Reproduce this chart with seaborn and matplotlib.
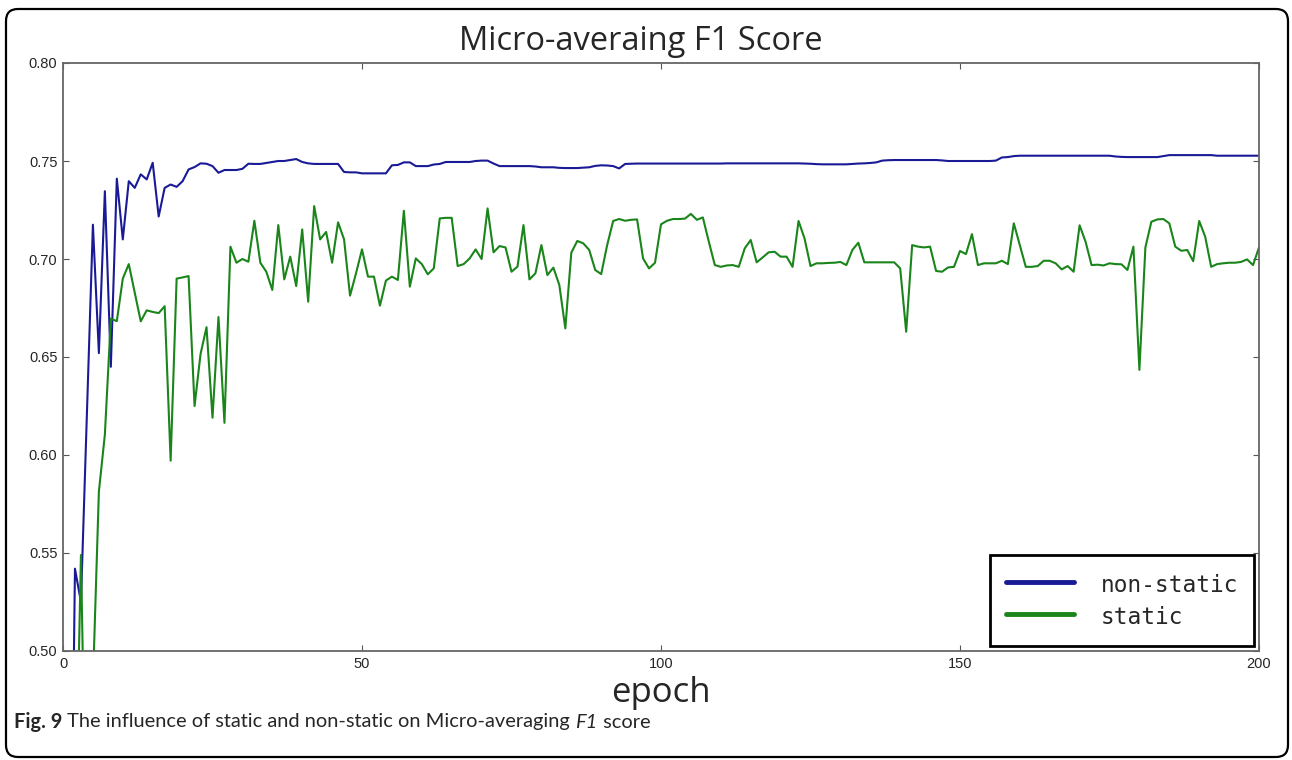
import numpy as np
import pandas as pd
import seaborn as sns
import matplotlib
matplotlib.use("Agg")
import matplotlib.pyplot as plt
from matplotlib.patches import FancyBboxPatch
from matplotlib.transforms import IdentityTransform
from matplotlib.lines import Line2D

# ---------------- data ----------------
epochs = list(range(1, 201))

non_static = [
    0.29, 0.542, 0.525, 0.621, 0.7175, 0.652, 0.7346, 0.645, 0.741, 0.710,
    0.7397, 0.7363, 0.7432, 0.7406, 0.7491, 0.7217, 0.7363, 0.738, 0.7368, 0.7397,
    0.7457, 0.7469, 0.7488, 0.7486, 0.7474, 0.744, 0.7454, 0.7454, 0.7454, 0.746,
    0.7486, 0.7485, 0.7485, 0.749, 0.7495, 0.750, 0.750, 0.7505, 0.751, 0.7495,
    0.7488, 0.7485, 0.7485, 0.7485, 0.7485, 0.7485, 0.7444, 0.7442, 0.7442, 0.7437,
    0.7437, 0.7437, 0.7437, 0.7437, 0.7478, 0.748, 0.7493, 0.7493, 0.7474, 0.7474,
    0.7474, 0.7482, 0.7485, 0.7495, 0.7495, 0.7495, 0.7495, 0.7495, 0.75, 0.7502,
    0.7502, 0.7487, 0.7474, 0.7474, 0.7474, 0.7474, 0.7474, 0.7474, 0.7472, 0.7468,
    0.7468, 0.7468, 0.7465, 0.7464, 0.7464, 0.7464, 0.7466, 0.7468, 0.7475, 0.7478,
    0.7477, 0.7474, 0.7462, 0.7485, 0.7486, 0.7487, 0.7487, 0.7487, 0.7487, 0.7487,
    0.7487, 0.7487, 0.7487, 0.7487, 0.7487, 0.7487, 0.7487, 0.7487, 0.7487, 0.7487,
    0.7488, 0.7488, 0.7488, 0.7488, 0.7488, 0.7488, 0.7488, 0.7488, 0.7488, 0.7488,
    0.7488, 0.7488, 0.7488, 0.7487, 0.7486, 0.7484, 0.7483, 0.7483, 0.7483, 0.7483,
    0.7483, 0.7485, 0.7487, 0.7488, 0.749, 0.7493, 0.7502, 0.7504, 0.7505, 0.7505,
    0.7505, 0.7505, 0.7505, 0.7505, 0.7505, 0.7505, 0.7503, 0.75, 0.75, 0.75,
    0.75, 0.75, 0.75, 0.75, 0.75, 0.7502, 0.7518, 0.752, 0.7525, 0.7527,
    0.7527, 0.7527, 0.7527, 0.7527, 0.7527, 0.7527, 0.7527, 0.7527, 0.7527, 0.7527,
    0.7527, 0.7527, 0.7527, 0.7527, 0.7527, 0.7523, 0.7521, 0.752, 0.752, 0.752,
    0.752, 0.752, 0.752, 0.7525, 0.753, 0.753, 0.753, 0.753, 0.753, 0.753,
    0.753, 0.753, 0.7527, 0.7527, 0.7527, 0.7527, 0.7527, 0.7527, 0.7527, 0.7527,
]

static = [
    0.30, 0.40, 0.549, 0.38, 0.483, 0.5813, 0.6104, 0.6695, 0.6683, 0.690,
    0.6974, 0.6827, 0.6682, 0.6738, 0.673, 0.6724, 0.6759, 0.5971, 0.690, 0.6906,
    0.6913, 0.625, 0.6515, 0.6652, 0.619, 0.6704, 0.6164, 0.7063, 0.6981, 0.700,
    0.6986, 0.7195, 0.6981, 0.6935, 0.6842, 0.7173, 0.6896, 0.7012, 0.6862, 0.7151,
    0.6782, 0.727, 0.710, 0.7138, 0.6981, 0.7187, 0.710, 0.6813, 0.6927, 0.7049,
    0.691, 0.691, 0.6762, 0.689, 0.691, 0.6893, 0.7246, 0.6859, 0.7003, 0.6974,
    0.6922, 0.6952, 0.7207, 0.721, 0.721, 0.6964, 0.6974, 0.7003, 0.7049, 0.700,
    0.7258, 0.7034, 0.7066, 0.7059, 0.6935, 0.6961, 0.7173, 0.6896, 0.6927, 0.7071,
    0.6918, 0.6956, 0.6867, 0.6646, 0.7032, 0.7092, 0.708, 0.7046, 0.6944, 0.6923,
    0.7071, 0.7194, 0.7204, 0.7195, 0.720, 0.7202, 0.7003, 0.6952, 0.6981, 0.7177,
    0.7195, 0.7204, 0.7204, 0.7206, 0.723, 0.720, 0.7212, 0.7088, 0.6969, 0.696,
    0.6967, 0.6969, 0.696, 0.7054, 0.7097, 0.6983, 0.7008, 0.7034, 0.7037, 0.7012,
    0.7012, 0.696, 0.7194, 0.7105, 0.6964, 0.6978, 0.6978, 0.698, 0.6981, 0.6985,
    0.6969, 0.7046, 0.7083, 0.6983, 0.6983, 0.6983, 0.6983, 0.6983, 0.6983, 0.6952,
    0.6629, 0.7071, 0.7063, 0.7059, 0.7063, 0.6939, 0.6935, 0.6957, 0.696, 0.7041,
    0.7025, 0.7127, 0.6969, 0.6978, 0.6978, 0.6978, 0.6991, 0.6974, 0.7182, 0.7071,
    0.696, 0.696, 0.6964, 0.6991, 0.6991, 0.6978, 0.6947, 0.6964, 0.6935, 0.7172,
    0.7088, 0.6969, 0.6971, 0.6967, 0.6978, 0.6974, 0.6973, 0.6944, 0.7063, 0.6434,
    0.7059, 0.719, 0.7202, 0.7204, 0.7182, 0.7063, 0.7042, 0.7046, 0.6989, 0.7194,
    0.7114, 0.696, 0.6974, 0.6978, 0.6981, 0.6981, 0.6985, 0.6998, 0.6969, 0.7059,
]

series_names = ["non-static", "static"]
x_ticks = [0, 50, 100, 150, 200]
y_ticks = [0.50, 0.55, 0.60, 0.65, 0.70, 0.75, 0.80]
title_text = "Micro-averaing F1 Score"
xlabel_text = "epoch"

df = pd.DataFrame({
    "epoch": epochs * 2,
    "score": non_static + static,
    "series": [series_names[0]] * len(epochs) + [series_names[1]] * len(epochs),
})

# ---------------- style ----------------
sns.set_theme(style="white")
plt.rcParams["font.family"] = ["Liberation Sans", "DejaVu Sans"]

W, H = 1292, 760
fig = plt.figure(figsize=(W / 100, H / 100), dpi=100)
fig.patch.set_facecolor("white")

L, R, T, B = 63, 1259, 63, 651
ax = fig.add_axes([L / W, 1 - B / H, (R - L) / W, (B - T) / H])

palette = {"non-static": "#1a1a96", "static": "#1a851a"}
sns.lineplot(data=df, x="epoch", y="score", hue="series", palette=palette,
             linewidth=1.5, ax=ax, legend=False, estimator=None)

ax.set_xlim(0, 200)
ax.set_ylim(0.5, 0.8)
ax.set_xticks(x_ticks)
ax.set_yticks(y_ticks)
ax.set_xticklabels([str(t) for t in x_ticks], fontsize=10.5)
ax.set_yticklabels([f"{t:.2f}" for t in y_ticks], fontsize=10.5)
ax.tick_params(direction="in", length=4, width=0.8, color="#555555",
               top=True, right=True, bottom=True, left=True, pad=4)
for s in ax.spines.values():
    s.set_color("#666666")
    s.set_linewidth(1.3)
ax.set_xlabel(xlabel_text, fontsize=25, family=["Open Sans", "DejaVu Sans"], labelpad=4)
ax.set_ylabel("")
ax.grid(False)

# title
fig.text(641 / W, 1 - 41 / H, title_text, ha="center", va="center",
         fontsize=23.5, family=["Open Sans", "DejaVu Sans"])

# legend
handles = [Line2D([], [], color=palette[n], linewidth=3.5) for n in series_names]
leg = ax.legend(handles, series_names, loc="lower right",
                bbox_to_anchor=(0.9958, 0.0085), borderaxespad=0,
                prop={"family": "DejaVu Sans Mono", "size": 16.4},
                handlelength=3.0, handletextpad=1.15, labelspacing=0.2,
                handleheight=1.45, borderpad=0.7, fancybox=False, framealpha=1)
leg.get_frame().set_edgecolor("black")
leg.get_frame().set_linewidth(2.0)

# rounded figure border
border = FancyBboxPatch((6, 3), 1282, 748,
                        boxstyle="round,pad=0,rounding_size=12",
                        transform=IdentityTransform(), fill=False,
                        edgecolor="black", linewidth=1.6)
fig.patches.append(border)

# caption with mixed styles
fig.canvas.draw()
renderer = fig.canvas.get_renderer()
cap_y = 1 - 722 / H
cap_font = ["Lato", "DejaVu Sans"]
parts = [("Fig. 9", "bold", "normal"),
         (" The influence of static and non-static on Micro-averaging ", "normal", "normal"),
         ("F1", "normal", "italic"), (" score", "normal", "normal")]
x = 14
for txt, wt, st in parts:
    t = fig.text(x / W, cap_y, txt, ha="left", va="center", fontsize=14.4,
                 family=cap_font, weight=wt, style=st)
    bb = t.get_window_extent(renderer=renderer)
    x += bb.width

fig.savefig("out.png", dpi=100)
